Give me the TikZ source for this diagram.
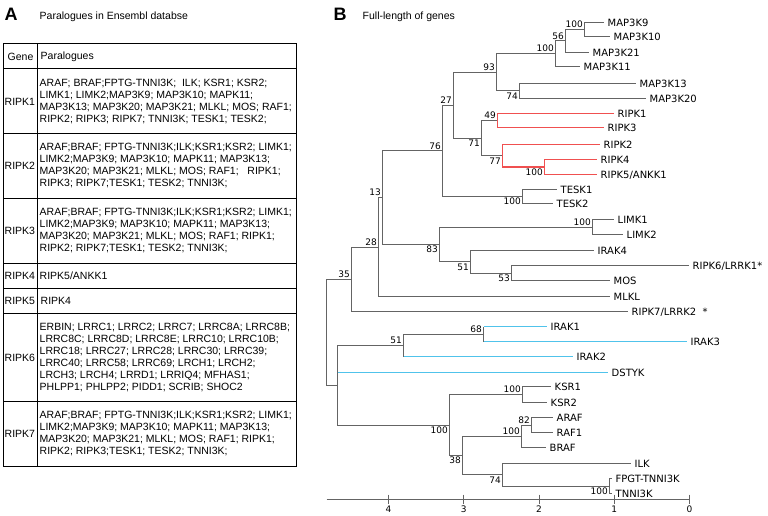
\documentclass[tikz,border=0pt]{standalone}
\usepackage{fontspec}
\setmainfont{Liberation Sans}
\newfontfamily\treefont{DejaVu Sans}
\definecolor{treegray}{RGB}{100,100,100}
\definecolor{ripkred}{RGB}{240,80,80}
\definecolor{irakblue}{RGB}{80,195,235}
\tikzset{
  panel/.style={anchor=west, inner sep=0pt, font=\bfseries\fontsize{18}{20}\selectfont},
  caption/.style={anchor=west, inner sep=0pt, font=\fontsize{10.5}{12}\selectfont},
  cell/.style={anchor=west, inner sep=0pt, align=left, font=\fontsize{10.5}{12}\selectfont},
  rule/.style={line width=1.3pt},
  branch/.style={treegray, line width=1pt},
  redbranch/.style={ripkred, line width=1.3pt},
  bluebranch/.style={irakblue, line width=1.3pt},
  leaf/.style={anchor=west, inner xsep=4pt, inner ysep=0pt, text height=7.3pt, text depth=0pt, font=\treefont\fontsize{10}{12}\selectfont},
  boot/.style={inner sep=1.5pt, font=\treefont\fontsize{9}{10}\selectfont},
}
\begin{document}
\begin{tikzpicture}[x=1pt,y=-1pt]
\useasboundingbox (-0.5,-0.5) rectangle (767.5,515.5);

% panel A: table
\node[panel] (labA) at (4,14) {A};
\node[caption] (capA) at (39,16) {Paralogues in Ensembl databse};
\foreach \y in {43,68,133,198,263,288,313,401,466}
  \draw[rule] (3,\y) -- (296,\y);
\foreach \x in {3,37,296}
  \draw[rule] (\x,43) -- (\x,466);
\node[cell] (hgene) at (7,56) {Gene};
\node[cell] (hpara) at (40,56) {Paralogues};
\node[cell] (g1) at (4,101) {RIPK1};
\node[cell] (p1) at (39,101) {ARAF; BRAF;FPTG-TNNI3K;~ ILK; KSR1; KSR2;\\LIMK1; LIMK2;MAP3K9; MAP3K10; MAPK11;\\MAP3K13; MAP3K20; MAP3K21; MLKL; MOS; RAF1;\\RIPK2; RIPK3; RIPK7; TNNI3K; TESK1; TESK2;};
\node[cell] (g2) at (4,165) {RIPK2};
\node[cell] (p2) at (39,165) {ARAF;BRAF; FPTG-TNNI3K;ILK;KSR1;KSR2; LIMK1;\\LIMK2;MAP3K9; MAP3K10; MAPK11; MAP3K13;\\MAP3K20; MAP3K21; MLKL; MOS; RAF1;~~ RIPK1;\\RIPK3; RIPK7;TESK1; TESK2; TNNI3K;};
\node[cell] (g3) at (4,230) {RIPK3};
\node[cell] (p3) at (39,230) {ARAF;BRAF; FPTG-TNNI3K;ILK;KSR1;KSR2; LIMK1;\\LIMK2;MAP3K9; MAP3K10; MAPK11; MAP3K13;\\MAP3K20; MAP3K21; MLKL; MOS; RAF1; RIPK1;\\RIPK2; RIPK7;TESK1; TESK2; TNNI3K;};
\node[cell] (g4) at (4,275) {RIPK4};
\node[cell] (p4) at (39,275) {RIPK5/ANKK1};
\node[cell] (g5) at (4,300) {RIPK5};
\node[cell] (p5) at (40,300) {RIPK4};
\node[cell] (g6) at (4,357) {RIPK6};
\node[cell] (p6) at (39,357) {ERBIN; LRRC1; LRRC2; LRRC7; LRRC8A; LRRC8B;\\LRRC8C; LRRC8D; LRRC8E; LRRC10; LRRC10B;\\LRRC18; LRRC27; LRRC28; LRRC30; LRRC39;\\LRRC40; LRRC58; LRRC69; LRCH1; LRCH2;\\LRCH3; LRCH4; LRRD1; LRRIQ4; MFHAS1;\\PHLPP1; PHLPP2; PIDD1; SCRIB; SHOC2};
\node[cell] (g7) at (4,433) {RIPK7};
\node[cell] (p7) at (39,433) {ARAF;BRAF; FPTG-TNNI3K;ILK;KSR1;KSR2; LIMK1;\\LIMK2;MAP3K9; MAP3K10; MAPK11; MAP3K13;\\MAP3K20; MAP3K21; MLKL; MOS; RAF1; RIPK1;\\RIPK2; RIPK3;TESK1; TESK2; TNNI3K;};

% panel B: tree
\node[panel] (labB) at (333,14) {B};
\node[caption] (capB) at (362,16) {Full-length of genes};

\node[leaf] (map3k9) at (603,22) {MAP3K9};
\node[leaf] (map3k10) at (609,36) {MAP3K10};
\node[leaf] (map3k21) at (588,52) {MAP3K21};
\node[leaf] (map3k11) at (579,66) {MAP3K11};
\node[leaf] (map3k13) at (635,83) {MAP3K13};
\node[leaf] (map3k20) at (645,98) {MAP3K20};
\node[leaf] (ripk1) at (613,113) {RIPK1};
\node[leaf] (ripk3) at (603,127) {RIPK3};
\node[leaf] (ripk2) at (599,144) {RIPK2};
\node[leaf] (ripk4) at (596,159) {RIPK4};
\node[leaf] (ripk5) at (596,174) {RIPK5/ANKK1};
\node[leaf] (tesk1) at (556,189) {TESK1};
\node[leaf] (tesk2) at (552,203) {TESK2};
\node[leaf] (limk1) at (613,219) {LIMK1};
\node[leaf] (limk2) at (622,234) {LIMK2};
\node[leaf] (irak4) at (593,250) {IRAK4};
\node[leaf] (ripk6) at (688,265) {RIPK6/LRRK1*};
\node[leaf] (mos) at (609,280) {MOS};
\node[leaf] (mlkl) at (609,296) {MLKL};
\node[leaf] (ripk7) at (627,311) {RIPK7/LRRK2~ *};
\node[leaf] (irak1) at (546,326) {IRAK1};
\node[leaf] (irak3) at (686,341) {IRAK3};
\node[leaf] (irak2) at (572,356) {IRAK2};
\node[leaf] (dstyk) at (607,372) {DSTYK};
\node[leaf] (ksr1) at (550,386) {KSR1};
\node[leaf] (ksr2) at (546,402) {KSR2};
\node[leaf] (araf) at (552,417) {ARAF};
\node[leaf] (raf1) at (552,432) {RAF1};
\node[leaf] (braf) at (545,447) {BRAF};
\node[leaf] (ilk) at (630,463) {ILK};
\node[leaf] (fpgt) at (611,478) {FPGT-TNNI3K};
\node[leaf] (tnni3k) at (611,493) {TNNI3K};

\coordinate (k9k10) at (584,29);
\coordinate (k21) at (565,40.5);
\coordinate (k11) at (555,53.25);
\coordinate (k13k20) at (519,90.5);
\coordinate (mapk) at (496,71.9);
\coordinate (ripk13) at (497,120);
\coordinate (ripk45) at (544,166.5);
\coordinate (ripk245) at (502,155.25);
\coordinate (ripkall) at (481,137.6);
\coordinate (n27) at (453,104.75);
\coordinate (tesk) at (522,196);
\coordinate (n76) at (442,150.4);
\coordinate (limk) at (592,226.5);
\coordinate (lrrk1mos) at (511,272.5);
\coordinate (n51) at (470,261.25);
\coordinate (n83) at (439,243.9);
\coordinate (n13) at (382,197.1);
\coordinate (n28) at (378,246.6);
\coordinate (n35) at (351,278.8);
\coordinate (irak13) at (483,333.5);
\coordinate (irak) at (403,344.75);
\coordinate (ksr) at (522,394);
\coordinate (arafraf1) at (531,424.5);
\coordinate (raf) at (521,435.75);
\coordinate (tnni) at (609,485.5);
\coordinate (n74) at (502,474.25);
\coordinate (n38) at (462,455);
\coordinate (n100) at (449,424.5);
\coordinate (lower) at (337,384.6);
\coordinate (root) at (326,331.7);

\draw[branch] (k9k10) |- (map3k9.west);
\draw[branch] (k9k10) |- (map3k10.west);
\draw[branch] (k21) |- (k9k10);
\draw[branch] (k21) |- (map3k21.west);
\draw[branch] (k11) |- (k21);
\draw[branch] (k11) |- (map3k11.west);
\draw[branch] (k13k20) |- (map3k13.west);
\draw[branch] (k13k20) |- (map3k20.west);
\draw[branch] (mapk) |- (k11);
\draw[branch] (mapk) |- (k13k20);
\draw[branch] (ripkall) |- (ripk13);
\draw[branch] (ripkall) |- (ripk245);
\draw[redbranch] (ripk13) |- (ripk1.west);
\draw[redbranch] (ripk13) |- (ripk3.west);
\draw[redbranch] (ripk45) |- (ripk4.west);
\draw[redbranch] (ripk45) |- (ripk5.west);
\draw[redbranch] (ripk245) |- (ripk2.west);
\draw[redbranch] (ripk245) |- (ripk45);
\draw[branch] (n27) |- (mapk);
\draw[branch] (n27) |- (ripkall);
\draw[branch] (tesk) |- (tesk1.west);
\draw[branch] (tesk) |- (tesk2.west);
\draw[branch] (n76) |- (n27);
\draw[branch] (n76) |- (tesk);
\draw[branch] (limk) |- (limk1.west);
\draw[branch] (limk) |- (limk2.west);
\draw[branch] (lrrk1mos) |- (ripk6.west);
\draw[branch] (lrrk1mos) |- (mos.west);
\draw[branch] (n51) |- (irak4.west);
\draw[branch] (n51) |- (lrrk1mos);
\draw[branch] (n83) |- (limk);
\draw[branch] (n83) |- (n51);
\draw[branch] (n13) |- (n76);
\draw[branch] (n13) |- (n83);
\draw[branch] (n28) |- (n13);
\draw[branch] (n28) |- (mlkl.west);
\draw[branch] (n35) |- (n28);
\draw[branch] (n35) |- (ripk7.west);
\draw[branch] (irak13) -- (irak13 |- irak1.west);
\draw[branch] (irak13) -- (irak13 |- irak3.west);
\draw[bluebranch] (irak13 |- irak1.west) -- (irak1.west);
\draw[bluebranch] (irak13 |- irak3.west) -- (irak3.west);
\draw[branch] (irak) |- (irak13);
\draw[branch] (irak) -- (irak |- irak2.west);
\draw[bluebranch] (irak |- irak2.west) -- (irak2.west);
\draw[branch] (ksr) |- (ksr1.west);
\draw[branch] (ksr) |- (ksr2.west);
\draw[branch] (arafraf1) |- (araf.west);
\draw[branch] (arafraf1) |- (raf1.west);
\draw[branch] (raf) |- (arafraf1);
\draw[branch] (raf) |- (braf.west);
\draw[branch] (tnni) |- (fpgt.west);
\draw[branch] (tnni) |- (tnni3k.west);
\draw[branch] (n74) |- (ilk.west);
\draw[branch] (n74) |- (tnni);
\draw[branch] (n38) |- (raf);
\draw[branch] (n38) |- (n74);
\draw[branch] (n100) |- (ksr);
\draw[branch] (n100) |- (n38);
\draw[branch] (lower) |- (irak);
\draw[branch] (lower) |- (n100);
\draw[bluebranch] (lower |- dstyk.west) -- (dstyk.west);
\draw[branch] (root) |- (n35);
\draw[branch] (root) |- (lower);

% bootstrap values
\node[boot, anchor=south east] at (k9k10) {100};
\node[boot, anchor=south east] at (k21) {56};
\node[boot, anchor=south east] at (k11) {100};
\node[boot, anchor=north east] at (k13k20) {74};
\node[boot, anchor=south east] at (mapk) {93};
\node[boot, anchor=south east] at (ripk13) {49};
\node[boot, anchor=north east] at (ripk45) {100};
\node[boot, anchor=north east] at (ripk245) {77};
\node[boot, anchor=north east] at (ripkall) {71};
\node[boot, anchor=south east] at (n27) {27};
\node[boot, anchor=north east] at (tesk) {100};
\node[boot, anchor=south east] at (n76) {76};
\node[boot, anchor=south east] at (limk) {100};
\node[boot, anchor=north east] at (lrrk1mos) {53};
\node[boot, anchor=north east] at (n51) {51};
\node[boot, anchor=north east] at (n83) {83};
\node[boot, anchor=south east] at (n13) {13};
\node[boot, anchor=south east] at (n28) {28};
\node[boot, anchor=south east] at (n35) {35};
\node[boot, anchor=south east] at (irak13) {68};
\node[boot, anchor=south east] at (irak) {51};
\node[boot, anchor=south east] at (ksr) {100};
\node[boot, anchor=south east] at (arafraf1) {82};
\node[boot, anchor=south east] at (raf) {100};
\node[boot, anchor=north east] at (tnni) {100};
\node[boot, anchor=north east] at (n74) {74};
\node[boot, anchor=north east] at (n38) {38};
\node[boot, anchor=north east] at (n100) {100};

% scale
\coordinate (axl) at (326,499);
\coordinate (axr) at (689,499);
\draw[branch] (axl) -- (axr);
\foreach \v in {0,...,4} {
  \draw[branch] (689-75.25*\v,494) -- (689-75.25*\v,503);
  \node[boot, anchor=north] at (689-75.25*\v,504) {\v};
}
\end{tikzpicture}
\end{document}
